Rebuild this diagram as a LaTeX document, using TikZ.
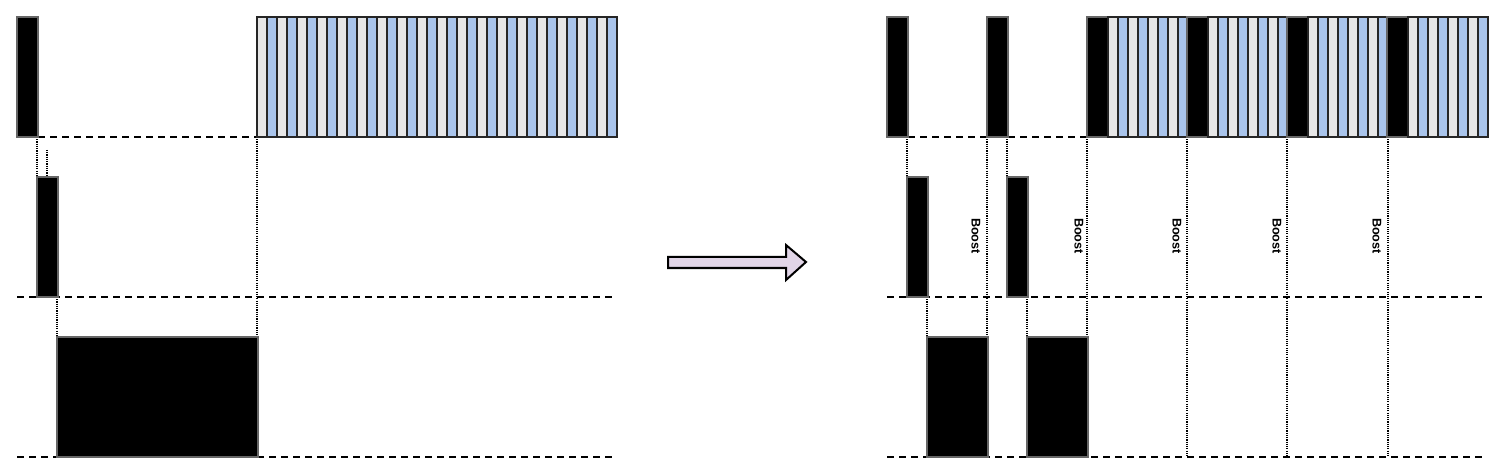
\documentclass[tikz,border=0pt]{standalone}
\usepackage{fontspec}
\setmainfont{Liberation Sans}
\usepackage{tikz}
\definecolor{slotgray}{HTML}{E6E6E6}
\definecolor{slotblue}{HTML}{A9C4EB}
\definecolor{arrowlilac}{HTML}{E1D5E7}
\definecolor{edgegray}{HTML}{666666}

\begin{document}
\begin{tikzpicture}[x=0.25mm,y=-0.25mm,
    busy/.style={fill=black,draw=edgegray,line width=0.3mm},
    sgray/.style={fill=slotgray,draw=black!85,line width=0.35mm},
    sblue/.style={fill=slotblue,draw=black!85,line width=0.35mm},
    level/.style={dash pattern=on 1.75mm off 1.25mm,line width=0.5mm},
    link/.style={dash pattern=on 0.28mm off 0.28mm,line width=0.45mm},
    boost/.style={rotate=-90,font=\fontsize{9}{10}\selectfont\bfseries,inner sep=0pt}]
    \useasboundingbox (0,0) rectangle (1494,464);
    % ---- before ----
    % levels
    \draw[level] (38,137) -- (257,137);
    \draw[level] (17,297) -- (612,297);
    \draw[level] (17,457) -- (612,457);
    % links between levels
    \draw[link] (37,137) -- (37,177);
    \draw[link] (47,150) -- (47,177);
    \draw[link] (57,297) -- (57,337);
    \draw[link] (257,137) -- (257,337);
    % busy bars
    \draw[busy] (17,17) rectangle (38,137);
    \draw[busy] (37,177) rectangle (58,297);
    \draw[busy] (57,337) rectangle (258,457);
    % time slices
    \foreach \i in {0,...,17}{
        \draw[sgray] ({257+20*\i},17) rectangle ++(10,120);
        \draw[sblue] ({267+20*\i},17) rectangle ++(10,120);
    }
    % ---- arrow ----
    \draw[fill=arrowlilac,line width=0.5mm,line join=miter]
        (668,257) -- (786,257) -- (786,245) -- (806,262) -- (786,280) -- (786,268) -- (668,268) -- cycle;
    % ---- after ----
    % levels
    \draw[level] (908,137) -- (987,137);
    \draw[level] (1008,137) -- (1087,137);
    \draw[level] (887,297) -- (1482,297);
    \draw[level] (887,457) -- (1482,457);
    % links between levels
    \draw[link] (907,137) -- (907,177);
    \draw[link] (1007,137) -- (1007,177);
    \draw[link] (927,297) -- (927,337);
    \draw[link] (1027,297) -- (1027,337);
    \draw[link] (987,137) -- (987,337);
    \draw[link] (1087,137) -- (1087,337);
    \foreach \x in {1187,1287,1388}
        \draw[link] (\x,137) -- (\x,457);
    % busy bars
    \draw[busy] (887,17) rectangle (908,137);
    \draw[busy] (987,17) rectangle (1008,137);
    \draw[busy] (907,177) rectangle (928,297);
    \draw[busy] (1007,177) rectangle (1028,297);
    \draw[busy] (927,337) rectangle (988,457);
    \draw[busy] (1027,337) rectangle (1088,457);
    % boosted time slices
    \foreach \k in {0,...,3}{
        \draw[busy] ({1087+100*\k},17) rectangle ++(21,120);
        \foreach \i in {0,...,3}{
            \draw[sgray] ({1108+100*\k+20*\i},17) rectangle ++(10,120);
            \draw[sblue] ({1118+100*\k+20*\i},17) rectangle ++(10,120);
        }
    }
    % labels
    \foreach \x/\n in {976/1,1079/2,1177/3,1277/4,1377/5}
        \node[boost] (boost\n) at (\x,236) {Boost};
\end{tikzpicture}
\end{document}
